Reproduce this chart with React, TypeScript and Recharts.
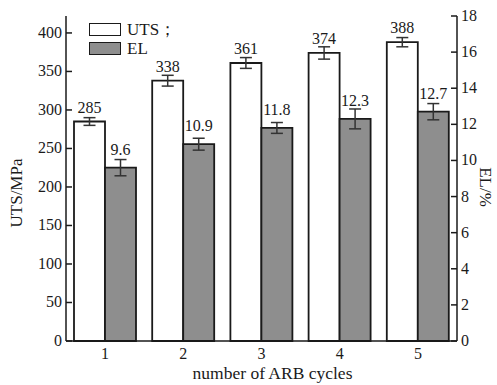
import React from "react";
import { BarChart, Bar, XAxis, YAxis, LabelList, ErrorBar } from "recharts";

const CYCLES = ["1", "2", "3", "4", "5"];
const UTS = [285, 338, 361, 374, 388];
const UTS_ERR = [5, 7, 7, 8, 6];
const EL = [9.6, 10.9, 11.8, 12.3, 12.7];
const EL_ERR = [0.45, 0.33, 0.3, 0.55, 0.45];
const UTS_TICKS = [0, 50, 100, 150, 200, 250, 300, 350, 400];
const EL_TICKS = [0, 2, 4, 6, 8, 10, 12, 14, 16, 18];

const FONT = "'Liberation Serif', 'Times New Roman', serif";
const INK = "#1a1a1a";
const GRAY = "#8e8e8e";

const data = CYCLES.map((c, i) => ({
  cycle: c,
  uts: UTS[i],
  utsErr: UTS_ERR[i],
  el: EL[i],
  elErr: EL_ERR[i],
}));

// ticks point inward, labels outside
const LeftTick = (props: any) => {
  const { y, payload } = props;
  return (
    <g>
      <line x1={66} x2={72} y1={y} y2={y} stroke={INK} strokeWidth={1.5} />
      <text x={62} y={y} dy={5} textAnchor="end" fontSize={16} fill={INK} fontFamily={FONT}>
        {payload.value}
      </text>
    </g>
  );
};

const RightTick = (props: any) => {
  const { y, payload } = props;
  return (
    <g>
      <line x1={451} x2={457} y1={y} y2={y} stroke={INK} strokeWidth={1.5} />
      <text x={461} y={y} dy={5} textAnchor="start" fontSize={16} fill={INK} fontFamily={FONT}>
        {payload.value}
      </text>
    </g>
  );
};

const BottomTick = (props: any) => {
  const { x, payload } = props;
  return (
    <text x={x} y={359} textAnchor="middle" fontSize={16} fill={INK} fontFamily={FONT}>
      {payload.value}
    </text>
  );
};

const overlayText: React.CSSProperties = {
  position: "absolute",
  fontFamily: FONT,
  fontSize: 17,
  color: INK,
  whiteSpace: "nowrap",
  lineHeight: "19px",
};

const swatch = (bg: string): React.CSSProperties => ({
  display: "inline-block",
  width: 30,
  height: 11,
  border: `1.5px solid ${INK}`,
  background: bg,
  marginRight: 6,
});

export default function App() {
  return (
    <div style={{ position: "absolute", left: 0, top: 0, width: 497, height: 385 }}>
      <BarChart
        width={497}
        height={385}
        data={data}
        margin={{ top: 16, right: 0, left: 0, bottom: 0 }}
        barGap={0}
        barSize={31}
      >
        <XAxis
          dataKey="cycle"
          height={44}
          tickLine={false}
          axisLine={{ stroke: INK, strokeWidth: 1.5 }}
          tick={<BottomTick />}
        />
        <YAxis
          yAxisId="uts"
          orientation="left"
          width={66}
          domain={[0, 422]}
          ticks={UTS_TICKS}
          interval={0}
          tickLine={false}
          axisLine={{ stroke: INK, strokeWidth: 1.5 }}
          tick={<LeftTick />}
        />
        <YAxis
          yAxisId="el"
          orientation="right"
          width={40}
          domain={[0, 18]}
          ticks={EL_TICKS}
          interval={0}
          tickLine={false}
          axisLine={{ stroke: INK, strokeWidth: 1.5 }}
          tick={<RightTick />}
        />
        <Bar
          yAxisId="uts"
          dataKey="uts"
          name="UTS"
          fill="#ffffff"
          stroke={INK}
          strokeWidth={1.8}
          isAnimationActive={false}
        >
          <ErrorBar dataKey="utsErr" width={6} stroke="#333" strokeWidth={1.5} />
          <LabelList
            dataKey="uts"
            position="top"
            offset={9}
            style={{ fontSize: 16, fill: INK, fontFamily: FONT }}
          />
        </Bar>
        <Bar
          yAxisId="el"
          dataKey="el"
          name="EL"
          fill={GRAY}
          stroke={INK}
          strokeWidth={1.8}
          isAnimationActive={false}
        >
          <ErrorBar dataKey="elErr" width={6} stroke="#333" strokeWidth={1.5} />
          <LabelList
            dataKey="el"
            position="top"
            offset={13}
            style={{ fontSize: 16, fill: INK, fontFamily: FONT }}
          />
        </Bar>
      </BarChart>

      {/* legend */}
      <div style={{ ...overlayText, left: 89, top: 20 }}>
        <div style={{ display: "flex", alignItems: "center" }}>
          <span style={swatch("#fff")} />
          UTS；
        </div>
        <div style={{ display: "flex", alignItems: "center" }}>
          <span style={swatch(GRAY)} />
          EL
        </div>
      </div>

      {/* axis titles */}
      <div
        style={{
          ...overlayText,
          left: 0,
          top: 364,
          width: 497,
          fontSize: 17.5,
          lineHeight: "18px",
          textAlign: "center",
          paddingLeft: 48,
          boxSizing: "border-box",
        }}
      >
        number of ARB cycles
      </div>
      <div
        style={{
          ...overlayText,
          left: 16,
          top: 193,
          transform: "translate(-50%, -50%) rotate(-90deg)",
        }}
      >
        UTS/MPa
      </div>
      <div
        style={{
          ...overlayText,
          left: 485,
          top: 187,
          transform: "translate(-50%, -50%) rotate(90deg)",
        }}
      >
        EL/%
      </div>
    </div>
  );
}
